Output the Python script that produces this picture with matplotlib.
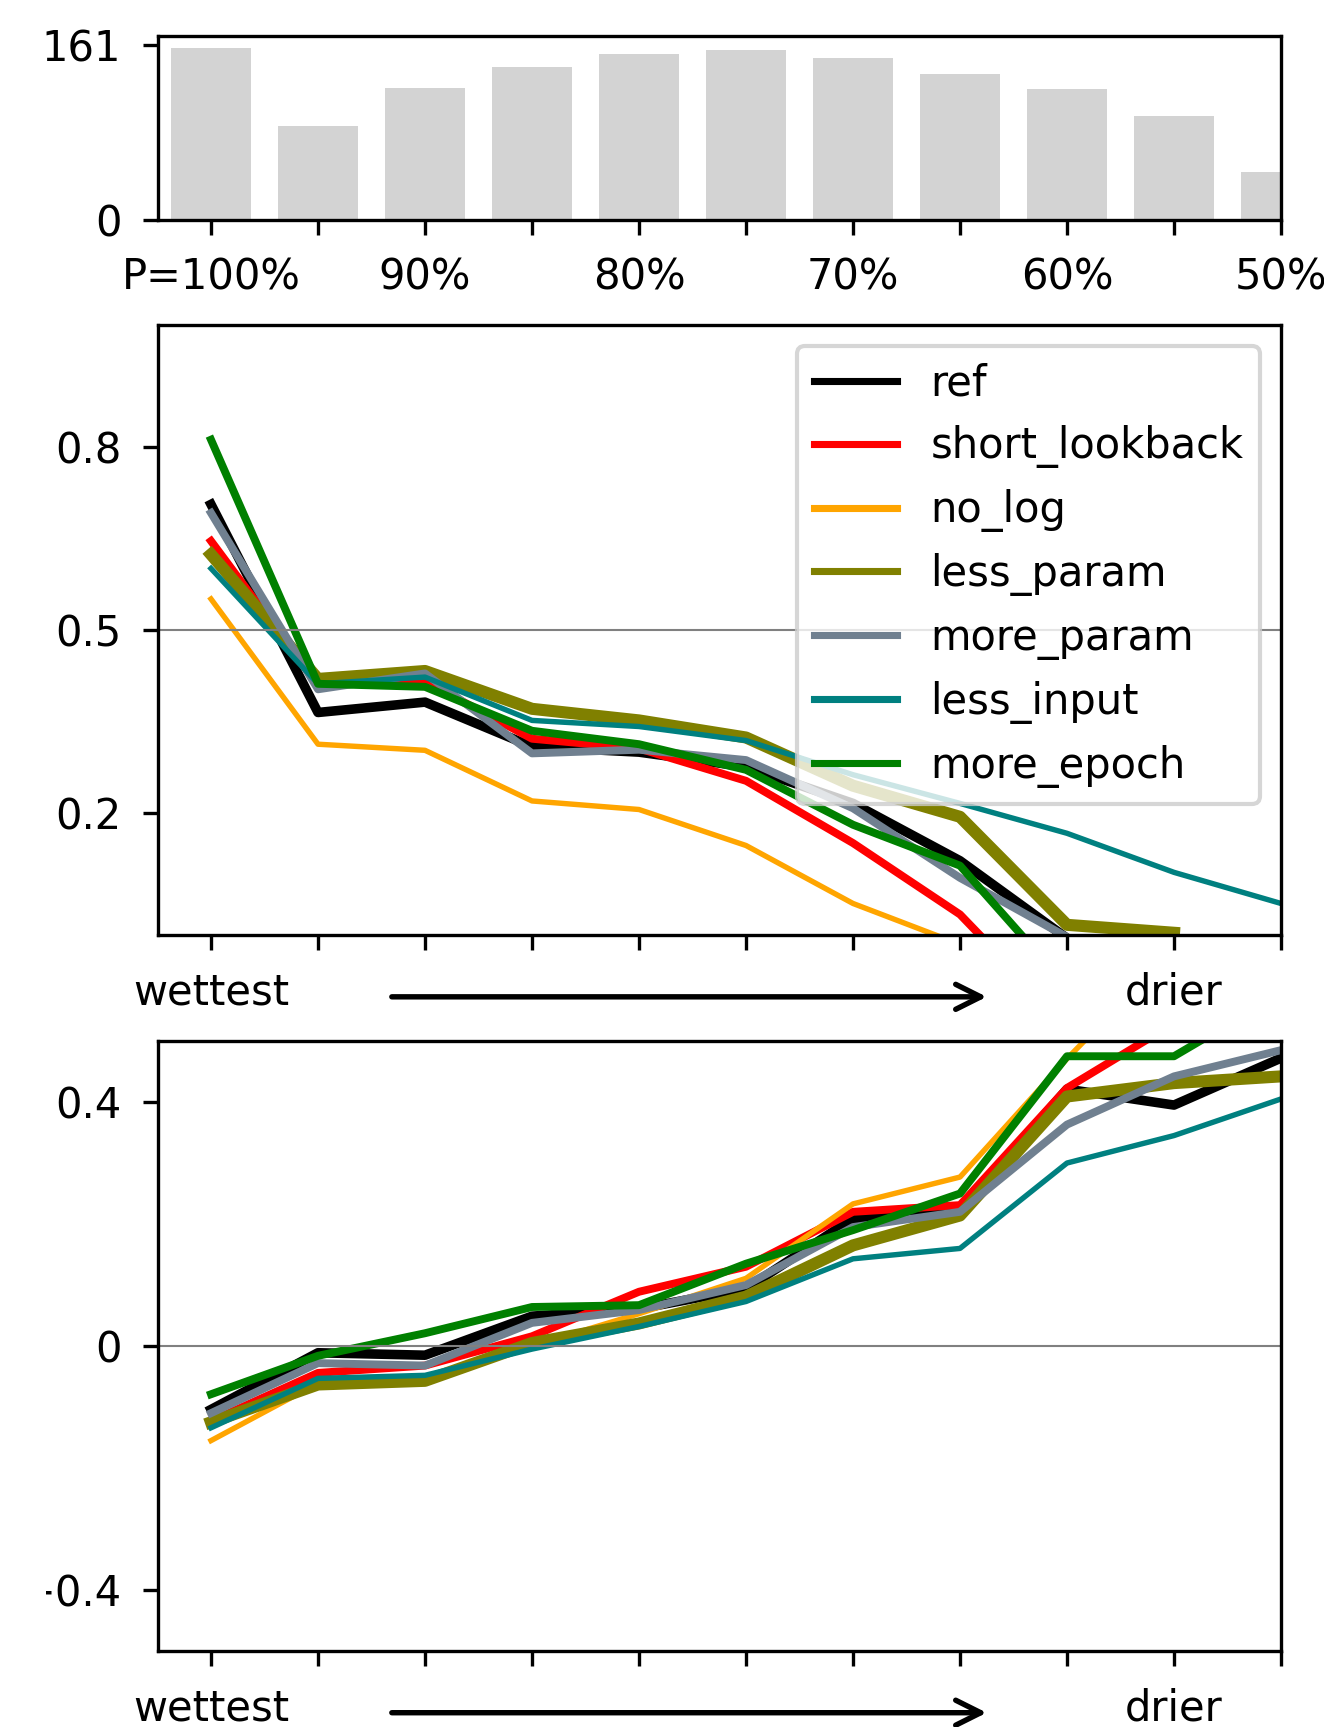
import numpy as np
import matplotlib
matplotlib.use("Agg")
import matplotlib.pyplot as plt
from matplotlib.transforms import Bbox

nan = np.nan

# ---------------- data ----------------
bins = list(range(11))
counts = [158, 86.5, 121, 141, 152.4, 156, 149, 134.3, 120.2, 95.4, 44.4]
pct_labels = ["P=100%", "", "90%", "", "80%", "", "70%", "", "60%", "", "50%"]
dir_labels = ["wettest", "", "", "", "", "", "", "", "", "drier", ""]

names = ["ref", "short_lookback", "no_log", "less_param", "more_param", "less_input", "more_epoch"]
colors = ["black", "red", "orange", "olive", "slategray", "teal", "green"]
widths = [2.3, 1.9, 1.3, 2.9, 1.9, 1.3, 1.9]

mid_ref = [0.706, 0.365, 0.382, 0.309, 0.300, 0.276, 0.216, 0.122, -0.005, nan, nan]
mid_short_lookback = [0.646, 0.410, 0.416, 0.322, 0.306, 0.253, 0.151, 0.034, -0.148, nan, nan]
mid_no_log = [0.551, 0.313, 0.303, 0.220, 0.206, 0.147, 0.052, -0.015, nan, nan, nan]
mid_less_param = [0.624, 0.420, 0.433, 0.371, 0.352, 0.324, 0.245, 0.194, 0.017, 0.004, nan]
mid_more_param = [0.692, 0.403, 0.429, 0.298, 0.304, 0.287, 0.208, 0.094, -0.003, nan, nan]
mid_less_input = [0.601, 0.412, 0.423, 0.352, 0.342, 0.319, 0.263, 0.216, 0.167, 0.103, 0.052]
mid_more_epoch = [0.812, 0.412, 0.407, 0.335, 0.313, 0.271, 0.181, 0.114, -0.084, nan, nan]

bot_ref = [-0.104, -0.011, -0.015, 0.049, 0.061, 0.094, 0.209, 0.222, 0.421, 0.395, 0.472]
bot_short_lookback = [-0.123, -0.044, -0.032, 0.016, 0.089, 0.130, 0.220, 0.231, 0.423, 0.529, nan]
bot_no_log = [-0.155, -0.061, -0.059, 0.000, 0.053, 0.111, 0.233, 0.277, 0.471, 0.650, nan]
bot_less_param = [-0.125, -0.063, -0.057, 0.005, 0.037, 0.081, 0.165, 0.214, 0.409, 0.431, 0.442]
bot_more_param = [-0.110, -0.028, -0.032, 0.038, 0.059, 0.100, 0.195, 0.220, 0.363, 0.442, 0.485]
bot_less_input = [-0.134, -0.053, -0.048, -0.005, 0.032, 0.073, 0.143, 0.160, 0.300, 0.345, 0.405]
bot_more_epoch = [-0.079, -0.016, 0.021, 0.064, 0.067, 0.135, 0.190, 0.250, 0.475, 0.475, 0.578]

mid_series = [mid_ref, mid_short_lookback, mid_no_log, mid_less_param,
              mid_more_param, mid_less_input, mid_more_epoch]
bot_series = [bot_ref, bot_short_lookback, bot_no_log, bot_less_param,
              bot_more_param, bot_less_input, bot_more_epoch]

# ---------------- style ----------------
plt.rcParams["font.family"] = ["DejaVu Sans"]
plt.rcParams["font.size"] = 10
plt.rcParams["xtick.major.pad"] = 5.2
plt.rcParams["ytick.major.pad"] = 5.2

W, H = 1324, 1727
DPI = 300
fig = plt.figure(figsize=(W / DPI, H / DPI), dpi=DPI)

left = 157.5 / W
width = (1281 - 157.5) / W


def axrect(top_px, bot_px):
    return [left, (H - bot_px) / H, width, (bot_px - top_px) / H]


ax1 = fig.add_axes(axrect(36, 220))
ax2 = fig.add_axes(axrect(325, 935.2))
ax3 = fig.add_axes(axrect(1041, 1651.1))

# top: sample counts per bin
ax1.bar(bins, counts, width=0.75, color="lightgray")
ax1.set_xlim(-0.5, 10)
ax1.set_ylim(0, 161 * 1.05)
ax1.set_yticks([0, 161])
ax1.set_yticklabels(["0", "161"])
ax1.set_xticks(bins)
ax1.set_xticklabels(pct_labels)

# middle
for s, n, c, lw in zip(mid_series, names, colors, widths):
    ax2.plot(bins, s, color=c, lw=lw, label=n)
ax2.axhline(0.5, color="gray", lw=0.5)
ax2.set_xlim(-0.5, 10)
ax2.set_ylim(0, 1)
ax2.set_yticks([0.2, 0.5, 0.8])
ax2.set_yticklabels(["0.2", "0.5", "0.8"])
ax2.set_xticks(bins)
ax2.set_xticklabels(dir_labels)
leg = ax2.legend(loc="upper right")
for ln in leg.get_lines():
    ln.set_linewidth(1.7)

# bottom
for s, n, c, lw in zip(bot_series, names, colors, widths):
    ax3.plot(bins, s, color=c, lw=lw, label=n)
ax3.axhline(0.0, color="gray", lw=0.5)
ax3.set_xlim(-0.5, 10)
ax3.set_ylim(-0.5, 0.5)
ax3.set_yticks([-0.4, 0, 0.4])
ax3.set_yticklabels(["\u22120.4", "0", "0.4"])
ax3.set_xticks(bins)
ax3.set_xticklabels(dir_labels)

# direction arrows below the line panels
for ax in (ax2, ax3):
    ax.annotate("", xy=(7.25, -0.101), xytext=(1.69, -0.101),
                xycoords=("data", "axes fraction"),
                textcoords=("data", "axes fraction"),
                arrowprops=dict(arrowstyle="->", lw=1.3, color="black",
                                shrinkA=0, shrinkB=0, mutation_scale=15),
                annotation_clip=False)

# the reference image is cropped at its left edge through the minus sign
lab = ax3.get_yticklabels()[0]
lab.set_clip_on(True)
lab.set_clip_box(Bbox.from_extents(46, 0, W, H))

fig.savefig("out.png", dpi=DPI)
